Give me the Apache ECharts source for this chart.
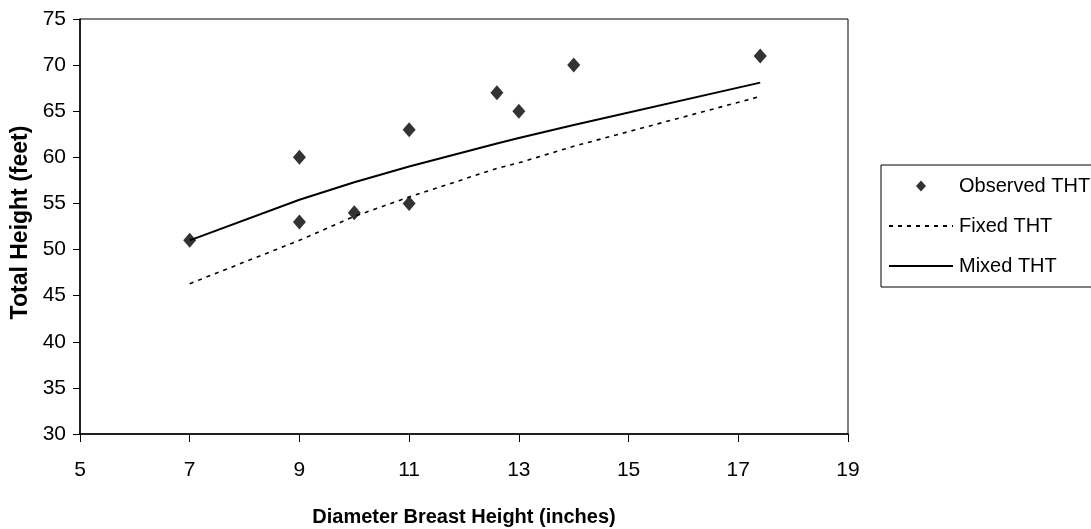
<!DOCTYPE html>
<html>
<head>
<meta charset="utf-8">
<script src="https://cdn.jsdelivr.net/npm/echarts@6/dist/echarts.min.js"></script>
<style>
html,body{margin:0;padding:0;background:#fff;}
#chart{width:1091px;height:529px;}
</style>
</head>
<body>
<div id="chart"></div>
<script>
// Observed points
const observedX = [7, 9, 9, 10, 11, 11, 12.6, 13, 14, 17.4];
const observedY = [51, 60, 53, 54, 63, 55, 67, 65, 70, 71];
// Model curves
const curveX = [7, 9, 10, 11, 12.6, 13, 14, 17.4];
const fixedY = [46.3, 51.0, 53.6, 55.7, 58.8, 59.4, 61.2, 66.6];
const mixedY = [51.0, 55.4, 57.3, 59.0, 61.5, 62.1, 63.5, 68.1];
const seriesNames = ['Observed THT', 'Fixed THT', 'Mixed THT'];
const xTitle = 'Diameter Breast Height (inches)';
const yTitle = 'Total Height (feet)';

const FONT = '"Liberation Sans", Arial, sans-serif';
const pair = (xs, ys) => xs.map((x, i) => [x, ys[i]]);
const hiddenMarker = {color: 'rgba(0,0,0,0)', borderColor: 'rgba(0,0,0,0)', borderWidth: 0};

const chart = echarts.init(document.getElementById('chart'), null, {renderer: 'canvas'});
chart.setOption({
  animation: false,
  backgroundColor: '#fff',
  textStyle: {fontFamily: FONT, color: '#000'},
  grid: {left: 80, right: 243, top: 19, bottom: 95, show: true, borderColor: '#000', borderWidth: 1,
         backgroundColor: 'transparent', containLabel: false, outerBoundsMode: 'none'},
  legend: {
    orient: 'vertical',
    left: 881, top: 165,
    padding: [11, 40, 11, 7],
    itemGap: 20,
    itemWidth: 64, itemHeight: 16,
    borderColor: '#000', borderWidth: 1,
    textStyle: {fontFamily: FONT, fontSize: 20, color: '#000', padding: [0,0,0,1]},
    data: [
      {name: seriesNames[0], icon: 'path://M0,8L0.01,8M32,2.5L37,8L32,13.5L27,8ZM64,8L64.01,8'},
      {name: seriesNames[1], itemStyle: hiddenMarker},
      {name: seriesNames[2], itemStyle: hiddenMarker}
    ]
  },
  xAxis: {
    type: 'value', min: 5, max: 19, interval: 2,
    name: xTitle, nameLocation: 'middle', nameGap: 73,
    nameTextStyle: {fontFamily: FONT, fontSize: 20, fontWeight: 'bold', color: '#000'},
    axisLine: {lineStyle: {color: '#000', width: 1.5}},
    axisTick: {show: true, length: 8, lineStyle: {color: '#000', width: 1}},
    axisLabel: {fontFamily: FONT, fontSize: 21, color: '#000', margin: 26},
    splitLine: {show: false}
  },
  yAxis: {
    type: 'value', min: 30, max: 75, interval: 5,
    name: yTitle, nameLocation: 'middle', nameGap: 45, nameRotate: 90,
    nameTextStyle: {fontFamily: FONT, fontSize: 23, fontWeight: 'bold', color: '#000', padding: [0, 0, 0, 8]},
    axisLine: {show: true, lineStyle: {color: '#000', width: 1.5}},
    axisTick: {show: true, length: 7, lineStyle: {color: '#000', width: 1}},
    axisLabel: {fontFamily: FONT, fontSize: 21, color: '#000', margin: 14},
    splitLine: {show: false}
  },
  series: [
    {
      name: seriesNames[0], type: 'scatter',
      data: pair(observedX, observedY),
      symbol: 'diamond', symbolSize: [13, 15],
      itemStyle: {color: '#000'}, z: 5
    },
    {
      name: seriesNames[1], type: 'line',
      data: pair(curveX, fixedY),
      showSymbol: false, symbol: 'none',
      lineStyle: {color: '#000', width: 1.6, type: [4, 5]},
      itemStyle: {color: '#000'}
    },
    {
      name: seriesNames[2], type: 'line',
      data: pair(curveX, mixedY),
      showSymbol: false, symbol: 'none',
      lineStyle: {color: '#000', width: 2, type: 'solid'},
      itemStyle: {color: '#000'}
    }
  ]
});
</script>
</body>
</html>
